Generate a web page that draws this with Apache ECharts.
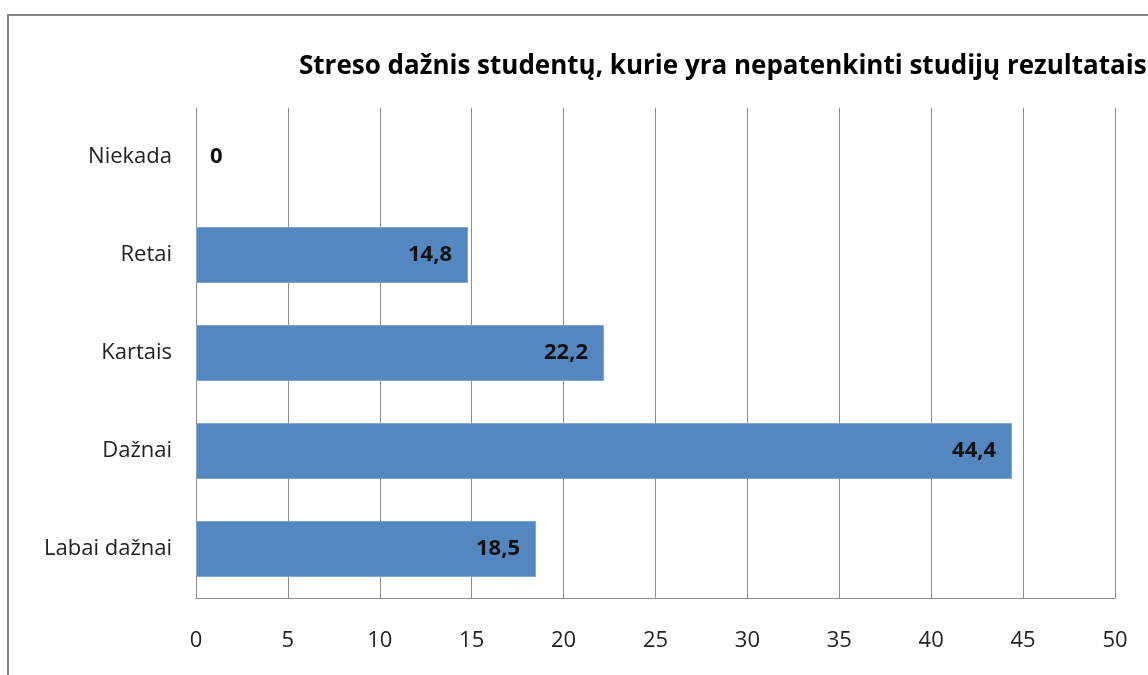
<!DOCTYPE html>
<html>
<head>
<meta charset="utf-8">
<script src="https://cdn.jsdelivr.net/npm/echarts@6/dist/echarts.min.js"></script>
<style>
  html, body { margin: 0; padding: 0; background: #fff; }
  #chart { width: 1148px; height: 675px; }
</style>
</head>
<body>
<div id="chart"></div>
<script>
// categories top to bottom
const categories = ['Niekada', 'Retai', 'Kartais', 'Dažnai', 'Labai dažnai']
const values = [0, 14.8, 22.2, 44.4, 18.5]
const xTicks = [0, 5, 10, 15, 20, 25, 30, 35, 40, 45, 50]
const title = 'Streso dažnis studentų, kurie yra nepatenkinti studijų rezultatais'

const font = '"Open Sans", "Noto Sans", sans-serif'
const chart = echarts.init(document.getElementById('chart'))

const barData = values.map(v => v === 0
  // zero bar has nowhere inside to put its label
  ? {value: v, itemStyle: {borderWidth: 0}, label: {position: 'right', distance: 14}}
  : {value: v})

chart.setOption({
  animation: false,
  graphic: [{
    type: 'rect',
    shape: {x: 8, y: 15, width: 1200, height: 700},
    style: {fill: 'none', stroke: '#878787', lineWidth: 2},
    silent: true
  }],
  title: {
    text: title,
    left: 294,
    top: 49,
    textStyle: {fontFamily: font, fontSize: 26, fontWeight: 'bold', color: '#000'}
  },
  grid: {left: 196, right: 33, top: 108, bottom: 77, containLabel: false},
  xAxis: {
    type: 'value',
    min: xTicks[0],
    max: xTicks[xTicks.length - 1],
    interval: 5,
    axisLine: {show: true, lineStyle: {color: '#8c8c8c', width: 1}},
    axisTick: {show: false},
    axisLabel: {
      margin: 32,
      fontFamily: font, fontSize: 22, color: '#222',
      formatter: v => String(v)
    },
    splitLine: {show: true, lineStyle: {color: '#8c8c8c', width: 1}}
  },
  yAxis: {
    type: 'category',
    data: categories,
    inverse: true,
    axisLine: {show: true, lineStyle: {color: '#8c8c8c', width: 1}},
    axisTick: {show: false},
    axisLabel: {margin: 24, fontFamily: font, fontSize: 22, color: '#222'},
    splitLine: {show: false}
  },
  series: [{
    type: 'bar',
    data: barData,
    barWidth: 56,
    itemStyle: {color: '#5487c0', borderColor: '#7fa6d4', borderWidth: 1},
    label: {
      show: true,
      position: 'insideRight',
      distance: 16,
      fontFamily: font, fontSize: 22, fontWeight: 'bold', color: '#111',
      formatter: p => String(p.value).replace('.', ',')
    }
  }]
})
</script>
</body>
</html>
